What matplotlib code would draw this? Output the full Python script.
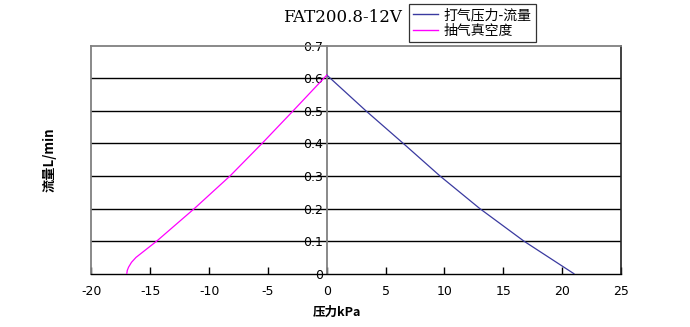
import matplotlib
matplotlib.use("Agg")
import matplotlib.pyplot as plt
from matplotlib.lines import Line2D

plt.rcParams['font.family'] = ['Noto Sans CJK SC', 'DejaVu Sans']

# Pressure (kPa) vs flow (L/min)
pump_pressure = [0.0, 3.33, 6.5, 9.62, 13.0, 16.75, 21.0]
pump_flow = [0.61, 0.5, 0.4, 0.3, 0.2, 0.1, 0.0]

vacuum_pressure = [-17.0, -16.96, -16.85, -16.6, -16.22, -14.46, -11.26, -8.23, -5.51, -2.87, 0.0]
vacuum_flow = [0.0, 0.01, 0.02, 0.035, 0.05, 0.1, 0.2, 0.3, 0.4, 0.5, 0.61]

x_ticks = [-20, -15, -10, -5, 0, 5, 10, 15, 20, 25]
y_ticks = [0, 0.1, 0.2, 0.3, 0.4, 0.5, 0.6, 0.7]
y_tick_labels = ['0', '0.1', '0.2', '0.3', '0.4', '0.5', '0.6', '0.7']

title = 'FAT200.8-12V'
series_names = ['打气压力-流量', '抽气真空度']
x_label = '压力kPa'
y_label = '流量L/min'

fig = plt.figure(figsize=(6.9, 3.27), dpi=100)
ax = fig.add_axes([0.1326, 0.163, 0.7674, 0.697])
ax.set_xlim(-20, 25)
ax.set_ylim(0, 0.7)

frame_gray = '#808080'

# horizontal grid lines
for v in y_ticks[1:-1]:
    ax.axhline(v, color='black', lw=1.0, zorder=1)

ax.plot(pump_pressure, pump_flow, color='#3a3aa0', lw=0.9, zorder=3)
ax.plot(vacuum_pressure, vacuum_flow, color='#ff00ff', lw=0.9, zorder=3)

# spines: left one becomes the y axis at x=0
ax.spines['left'].set_position(('data', 0))
ax.spines['left'].set_color(frame_gray)
ax.spines['left'].set_linewidth(1.3)
ax.spines['top'].set_color(frame_gray)
ax.spines['top'].set_linewidth(1.3)
ax.spines['right'].set_color('#202020')
ax.spines['right'].set_linewidth(1.2)
ax.spines['bottom'].set_color('black')
ax.spines['bottom'].set_linewidth(1.0)
ax.axvline(-20, color=frame_gray, lw=1.3, clip_on=False, zorder=2)

ax.set_xticks(x_ticks)
ax.set_xticklabels([str(t) for t in x_ticks], family=['DejaVu Sans'])
ax.tick_params(axis='x', direction='in', length=5, width=1, pad=8,
               labelsize=9, color='black')
ax.set_yticks(y_ticks)
ax.set_yticklabels(y_tick_labels, family=['DejaVu Sans'])
ax.tick_params(axis='y', length=0, pad=3, labelsize=9)

fig.text(342 / 690, 1 - 17 / 327, title, ha='center', va='center',
         fontsize=12, family=['DejaVu Serif'])

fig.text(337 / 690, 1 - 312 / 327, x_label, ha='center', va='center',
         fontsize=9, fontweight='bold')
fig.text(50 / 690, 1 - 160 / 327, y_label, ha='center', va='center',
         rotation=90, fontsize=9.5, fontweight='bold')

handles = [Line2D([], [], color='#3a3aa0', lw=1.0),
           Line2D([], [], color='#ff00ff', lw=1.0)]
leg = fig.legend(handles, series_names, loc='upper left',
                 bbox_to_anchor=(409 / 690, 1 - 4 / 327),
                 fontsize=10, frameon=True, fancybox=False,
                 handlelength=1.8, handletextpad=0.4, borderpad=0.3,
                 labelspacing=0.15, borderaxespad=0)
leg.get_frame().set_edgecolor('black')
leg.get_frame().set_linewidth(0.9)

fig.savefig('out.png', dpi=100)
